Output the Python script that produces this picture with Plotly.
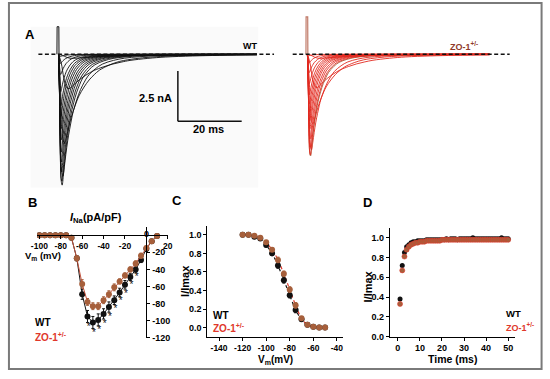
import plotly.graph_objects as go

W, H = 550, 379

# ---------------- Panel A: representative Na+ current traces ----------------
trace_t_ms = [0, 0.3, 0.6, 0.9, 1.2, 1.6, 2.0, 2.5, 3.0, 3.5, 4.0, 5.0, 6.0, 7.0, 8.0,
              10, 12, 15, 18, 22, 27, 33, 40, 50, 62, 80, 110, 150, 200]
trace_shape = [0, 0.25, 0.7, 0.97, 1.0, 0.92, 0.82, 0.71, 0.62, 0.54, 0.47, 0.37, 0.29,
               0.23, 0.18, 0.12, 0.08, 0.05, 0.032, 0.02, 0.012, 0.008, 0.005, 0.003,
               0.002, 0.001, 0.0005, 0.0002, 0]
step_mV = [-70, -65, -60, -55, -50, -45, -40, -35, -30, -25, -20, -15, -10, -5, 0, 5, 10]
wt_peak_nA = [0.2, 1.7, 4.4, 6.05, 6.5, 6.3, 5.85, 5.35, 4.85, 4.25, 3.7, 3.1, 2.55, 1.85, 1.0, 0.45, 0.1]
wt_time_scale = [4.0, 2.8, 1.6, 1.15, 0.95, 0.88, 0.82, 0.78, 0.74, 0.7, 0.67, 0.64, 0.62, 0.6, 0.58, 0.56, 0.55]
zo_peak_nA = [0.2, 1.65, 3.45, 4.75, 5.05, 5.0, 4.6, 4.2, 3.7, 3.3, 2.85, 2.45, 2.0, 1.45, 0.9, 0.42, 0.06]
zo_time_scale = [4.0, 2.8, 1.6, 1.15, 0.9, 0.85, 0.8, 0.76, 0.72, 0.69, 0.66, 0.63, 0.61, 0.59, 0.57, 0.55, 0.54]
spike_t_ms = [-0.5, -0.45, 0.1, 0.15]
wt_spike_nA = [0, 1.37, 1.37, 0]
zo_spike_nA = [0, 1.86, 1.86, 0]

# ---------------- Panel B: I-V relation ----------------
iv_mV = [-100, -95, -90, -85, -80, -75, -70, -65, -60, -55, -50, -45, -40, -35, -30,
         -25, -20, -15, -10, -5, 0, 5, 10]
wt_iv = [0, 0, 0, 0, 0, 0, -3, -27, -69, -95, -102, -99, -92, -84, -76, -67, -58, -49,
         -40, -29, -16, -7, -1]
zo_iv = [0, 0, 0, 0, 0, 0, -3, -27, -57, -78, -83, -83, -76, -69, -61, -54, -47, -40,
         -33, -24, -15, -7, -1]
wt_iv_err = [0, 0, 0, 0, 0, 0, 1, 3, 6, 7, 7, 7, 6, 6, 5, 5, 5, 4, 4, 3, 3, 2, 1]
zo_iv_err = [0, 0, 0, 0, 0, 0, 1, 3, 5, 4, 4, 4, 4, 4, 4, 3, 3, 3, 3, 3, 2, 2, 1]
sig_mV = [-55, -50, -45, -40, -35, -30, -25, -20, -15, -10]

# ---------------- Panel C: steady-state inactivation ----------------
inact_mV = [-120, -115, -110, -105, -100, -95, -90, -85, -80, -75, -70, -65, -60, -55, -50]
wt_inact = [1.0, 1.0, 0.98, 0.96, 0.89, 0.80, 0.67, 0.51, 0.35, 0.19, 0.09, 0.03, 0.01, 0.0, 0.0]
zo_inact = [1.0, 1.0, 0.99, 0.97, 0.92, 0.84, 0.73, 0.58, 0.41, 0.24, 0.10, 0.03, 0.01, 0.0, 0.0]
inact_err = [0, 0, 0.01, 0.01, 0.02, 0.02, 0.03, 0.03, 0.03, 0.03, 0.02, 0.01, 0, 0, 0]

# ---------------- Panel D: recovery from inactivation ----------------
rec_ms = [1, 2, 3, 4, 5, 6, 7, 8, 9, 10, 11, 12, 13, 14, 15, 16, 17, 18, 19, 20,
          21, 22, 23, 24, 25, 26, 27, 28, 29, 30, 31, 32, 33, 34, 35, 36, 37, 38, 39, 40,
          41, 42, 43, 44, 45, 46, 47, 48, 49, 50]
wt_rec = [0.38, 0.72, 0.85, 0.91, 0.93, 0.95, 0.96, 0.96, 0.97, 0.97, 0.97, 0.97, 0.98, 0.98,
          0.98, 0.98, 0.98, 0.98, 0.98, 0.98, 0.98, 0.99, 0.98, 0.99, 0.99, 0.99, 0.98, 0.99,
          0.99, 0.99, 0.99, 0.99, 0.99, 1.0, 0.99, 0.99, 0.99, 0.99, 0.99, 0.99, 0.99, 0.99,
          0.99, 0.99, 0.99, 0.99, 1.0, 0.99, 0.99, 0.99]
zo_rec = [0.33, 0.67, 0.81, 0.88, 0.91, 0.93, 0.94, 0.95, 0.95, 0.96, 0.96, 0.96, 0.97, 0.97,
          0.97, 0.97, 0.97, 0.97, 0.97, 0.98, 0.98, 0.98, 0.98, 0.98, 0.98, 0.98, 0.98, 0.98,
          0.98, 0.98, 0.98, 0.98, 0.98, 0.98, 0.98, 0.98, 0.98, 0.98, 0.98, 0.98, 0.98, 0.98,
          0.98, 0.98, 0.98, 0.98, 0.98, 0.98, 0.98, 0.98]

BLACK = "#111111"
ZO_RED = "#e0382b"
ZO_TRACE = "#e22a20"
ZO_BROWN = "#a65f3b"
FONT = "Liberation Sans"


def px(x):
    return x / W


def py(y):
    return 1 - y / H


fig = go.Figure()

# ---- A: WT traces
for pk, s in zip(wt_peak_nA, wt_time_scale):
    fig.add_trace(go.Scatter(x=[t * s for t in trace_t_ms], y=[-pk * v for v in trace_shape],
                             mode="lines", line=dict(color=BLACK, width=0.9, shape="spline"),
                             xaxis="x", yaxis="y", hoverinfo="skip", showlegend=False))
fig.add_trace(go.Scatter(x=spike_t_ms, y=wt_spike_nA, mode="lines",
                         line=dict(color=BLACK, width=1), xaxis="x", yaxis="y",
                         hoverinfo="skip", showlegend=False))

# ---- A: ZO-1 traces
zo_max = max(zo_peak_nA)
for pk, s in zip(zo_peak_nA, zo_time_scale):
    col = ZO_BROWN if pk == zo_max else ZO_TRACE
    fig.add_trace(go.Scatter(x=[t * s for t in trace_t_ms], y=[-pk * v for v in trace_shape],
                             mode="lines", line=dict(color=col, width=0.9, shape="spline"),
                             xaxis="x2", yaxis="y2", hoverinfo="skip", showlegend=False))
fig.add_trace(go.Scatter(x=spike_t_ms, y=zo_spike_nA, mode="lines",
                         line=dict(color="#c07a68", width=1.2), xaxis="x2", yaxis="y2",
                         hoverinfo="skip", showlegend=False))

# ---- B: I-V
fig.add_trace(go.Scatter(x=iv_mV, y=wt_iv, mode="lines+markers",
                         line=dict(color=BLACK, width=1),
                         marker=dict(color=BLACK, size=6),
                         error_y=dict(type="data", array=wt_iv_err, color=BLACK, thickness=1, width=1.5),
                         xaxis="x3", yaxis="y3", showlegend=False))
fig.add_trace(go.Scatter(x=iv_mV, y=zo_iv, mode="lines+markers",
                         line=dict(color="#c0503a", width=1),
                         marker=dict(color=ZO_BROWN, size=6),
                         error_y=dict(type="data", array=zo_iv_err, color=ZO_BROWN, thickness=1, width=1.5),
                         xaxis="x3", yaxis="y3", showlegend=False))
star_y = [wt_iv[iv_mV.index(v)] - wt_iv_err[iv_mV.index(v)] - 6 for v in sig_mV]
fig.add_trace(go.Scatter(x=[v + 1 for v in sig_mV], y=star_y, mode="text", text=["*"] * len(sig_mV),
                         textfont=dict(family=FONT, size=10, color=BLACK),
                         xaxis="x3", yaxis="y3", showlegend=False, cliponaxis=False))

# ---- C: inactivation
fig.add_trace(go.Scatter(x=inact_mV, y=wt_inact, mode="lines",
                         line=dict(color=BLACK, width=1.2, dash="dot", shape="spline"),
                         xaxis="x4", yaxis="y4", showlegend=False))
fig.add_trace(go.Scatter(x=inact_mV, y=zo_inact, mode="lines",
                         line=dict(color=ZO_RED, width=1.2, dash="dot", shape="spline"),
                         xaxis="x4", yaxis="y4", showlegend=False))
fig.add_trace(go.Scatter(x=inact_mV, y=wt_inact, mode="markers",
                         marker=dict(color=BLACK, size=6),
                         error_y=dict(type="data", array=inact_err, color=BLACK, thickness=1, width=1.5),
                         xaxis="x4", yaxis="y4", showlegend=False))
fig.add_trace(go.Scatter(x=inact_mV, y=zo_inact, mode="markers",
                         marker=dict(color=ZO_BROWN, size=6),
                         error_y=dict(type="data", array=inact_err, color=ZO_BROWN, thickness=1, width=1.5),
                         xaxis="x4", yaxis="y4", showlegend=False))

# ---- D: recovery (dense markers, no connecting lines)
fig.add_trace(go.Scatter(x=rec_ms, y=wt_rec, mode="markers",
                         marker=dict(color=BLACK, size=5),
                         xaxis="x5", yaxis="y5", showlegend=False))
fig.add_trace(go.Scatter(x=rec_ms, y=zo_rec, mode="markers",
                         marker=dict(color=ZO_BROWN, size=5, line=dict(color=ZO_RED, width=0.6)),
                         xaxis="x5", yaxis="y5", showlegend=False))

tickfont = dict(family=FONT, size=9, color="black", weight="bold")
tickfont_small = dict(family=FONT, size=8.5, color="black", weight="bold")
common = dict(showgrid=False, zeroline=False, showline=True, linecolor="black", linewidth=1,
              ticks="outside", ticklen=3, tickwidth=1, tickcolor="black",
              fixedrange=True)


def hy(vals, fmt="{:d}"):
    return [fmt.format(v).replace("\u2212", "-") for v in vals]


b_x_ticks = [-100, -80, -60, -40, -20, 20]
b_y_ticks = [-20, -40, -60, -80, -100, -120]
c_x_ticks = [-140, -120, -100, -80, -60, -40]
frac_ticks = [0.0, 0.2, 0.4, 0.6, 0.8, 1.0]
d_x_ticks = [0, 10, 20, 30, 40, 50]

a_y_range = [-(195 - 55) / 20.4, (55 - 15) / 20.4]

fig.update_layout(
    width=W, height=H, autosize=False,
    margin=dict(l=0, r=0, t=0, b=0),
    paper_bgcolor="white", plot_bgcolor="rgba(0,0,0,0)",
    font=dict(family=FONT, color="black"),
    xaxis=dict(domain=[px(30), px(255.5)], range=[(30 - 53.5) / 3.25, (255.5 - 53.5) / 3.25],
               visible=False, anchor="y", fixedrange=True),
    yaxis=dict(domain=[py(195), py(15)], range=a_y_range, visible=False, anchor="x", fixedrange=True),
    xaxis2=dict(domain=[px(290), px(492.5)], range=[(290 - 307) / 2.98, (492.5 - 307) / 2.98],
                visible=False, anchor="y2", fixedrange=True),
    yaxis2=dict(domain=[py(195), py(15)], range=a_y_range, visible=False, anchor="x2", fixedrange=True),
    xaxis3=dict(domain=[px(31.8), px(165.3)], range=[-102, 20.5], anchor="free",
                position=py(238.3), side="bottom", tickvals=b_x_ticks, ticktext=hy(b_x_ticks),
                tickfont=tickfont_small, **common),
    yaxis3=dict(domain=[py(342.8), py(230)], range=[-120.5, 9.6], anchor="free",
                position=px(143), side="right", tickvals=b_y_ticks, ticktext=hy(b_y_ticks),
                tickfont=tickfont, **common),
    xaxis4=dict(domain=[px(205), px(343)], range=[-150, -35], anchor="y4",
                tickvals=c_x_ticks, ticktext=hy(c_x_ticks), tickfont=tickfont_small, **common),
    yaxis4=dict(domain=[py(341.4), py(228.6)], range=[-0.1, 1.1], anchor="x4",
                tickvals=frac_ticks, ticktext=hy(frac_ticks, "{:.1f}"), tickfont=tickfont, **common),
    xaxis5=dict(domain=[px(391), px(518)], range=[-3.6, 52.9], anchor="y5",
                tickvals=d_x_ticks, ticktext=hy(d_x_ticks), tickfont=tickfont, **common),
    yaxis5=dict(domain=[py(341), py(231)], range=[0, 1.1], anchor="x5",
                tickvals=frac_ticks, ticktext=hy(frac_ticks, "{:.1f}"), tickfont=tickfont, **common),
)

shapes = [
    dict(type="rect", xref="paper", yref="paper", x0=px(25), x1=px(257), y0=py(190), y1=py(27),
         fillcolor="#fafafa", line=dict(width=0), layer="below"),
    dict(type="rect", xref="paper", yref="paper", x0=px(3), x1=px(545.5), y0=py(374), y1=py(3),
         line=dict(color="#7a7a7a", width=2), fillcolor="rgba(0,0,0,0)"),
    dict(type="line", xref="paper", yref="y", x0=px(33), x1=px(273), y0=0, y1=0,
         line=dict(color=BLACK, width=1.5, dash="4px,2.5px")),
    dict(type="line", xref="paper", yref="y2", x0=px(292), x1=px(513), y0=0, y1=0,
         line=dict(color=BLACK, width=1.5, dash="4px,2.5px")),
    # scale bar: 2.5 nA x 20 ms
    dict(type="line", xref="x", yref="y", x0=37.4, x1=37.4, y0=-0.83, y1=-3.33,
         line=dict(color=BLACK, width=1.5)),
    dict(type="line", xref="x", yref="y", x0=37.4, x1=57.4, y0=-3.33, y1=-3.33,
         line=dict(color=BLACK, width=1.5)),
]
fig.update_layout(shapes=shapes)


def ann(x, y, text, size=10, color="black", xanchor="center", angle=0):
    return dict(x=px(x), y=py(y), xref="paper", yref="paper", text=text, showarrow=False,
                xanchor=xanchor, yanchor="middle", textangle=angle,
                font=dict(family=FONT, size=size, color=color))


annotations = [
    ann(24, 35, "<b>A</b>", 13),
    ann(27, 205, "<b>B</b>", 13),
    ann(174, 203, "<b>C</b>", 13),
    ann(368, 205, "<b>D</b>", 13),
    ann(248.5, 47, "<b>WT</b>", 9),
    ann(466, 47, "<b>ZO-1<sup>+/-</sup></b>", 9, "#8f3a2a"),
    ann(171, 99, "<b>2.5 nA</b>", 11, xanchor="right"),
    ann(206.5, 131, "<b>20 ms</b>", 11),
    ann(92, 221, "<b><i>I</i><sub>Na</sub>(pA/pF)</b>", 11),
    ann(17, 259, "<b>V<sub>m</sub> (mV)</b>", 9.5, xanchor="left"),
    ann(142.7, 237, "<b>0</b>", 9),
    ann(27, 327, "<b>WT</b>", 10, xanchor="left"),
    ann(27, 341, "<b>ZO-1<sup>+/-</sup></b>", 10, ZO_RED, xanchor="left"),
    ann(209, 320, "<b>WT</b>", 10, xanchor="left"),
    ann(209, 332.5, "<b>ZO-1<sup>+/-</sup></b>", 10, ZO_RED, xanchor="left"),
    ann(183, 285, "<b>I/Imax</b>", 11, angle=-90),
    ann(274, 364.5, "<b>V<sub>m</sub>(mV)</b>", 10),
    ann(369, 290, "<b>I/Imax</b>", 11, angle=-90),
    ann(455, 363.5, "<b>Time (ms)</b>", 10.5),
    ann(507, 318, "<b>WT</b>", 9.5, xanchor="left"),
    ann(507, 331, "<b>ZO-1<sup>+/-</sup></b>", 9, ZO_RED, xanchor="left"),
]
fig.update_layout(annotations=annotations)

fig.write_html("out.html", config={"displayModeBar": False},
               post_script="document.body.style.margin='0px';document.body.style.overflow='hidden';")
